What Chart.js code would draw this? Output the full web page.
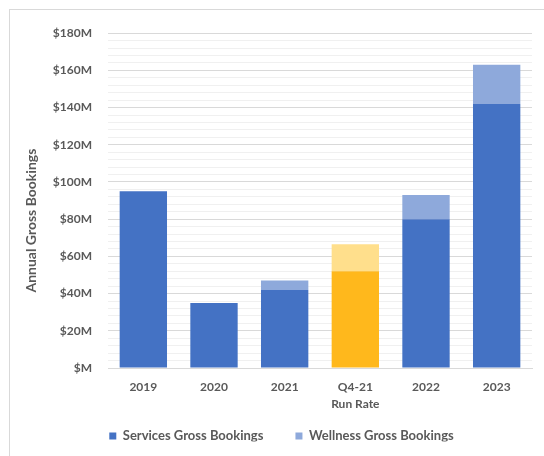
<!DOCTYPE html>
<html>
<head>
<meta charset="utf-8">
<script src="https://cdn.jsdelivr.net/npm/chart.js@4.4.1/dist/chart.umd.min.js"></script>
<style>
  html, body { margin: 0; padding: 0; background: #fff; }
  body { width: 544px; height: 456px; position: relative; overflow: hidden; }
  .frame { position: absolute; left: 9px; top: 9px; width: 540px; height: 460px; border: 1px solid #d9d9d9; }
  .wrap { position: absolute; left: 10px; top: 10px; width: 534px; height: 446px; }
</style>
</head>
<body>
<div class="frame"></div>
<div class="wrap"><canvas id="chart"></canvas></div>
<script>
const categories = ['2019', '2020', '2021', ['Q4-21', 'Run Rate'], '2022', '2023'];
const services = [95, 35, 42, 52, 80, 142];
const wellness = [0, 0, 5, 14.5, 13, 21];
const runRateIndex = 3;

const textColor = '#595959';
const font = { family: 'Lato', size: 12, weight: 'bold' };

const ctx = document.querySelector('#chart').getContext('2d');

// the legend's wide item padding also pushes it down, so lift it back up,
// and the axis title sits a bit below the middle of the axis in the original
const tweakLayout = {
    id: 'tweakLayout',
    afterLayout(chart) {
        const lg = chart.legend;
        lg.top -= 14.5;
        lg.bottom -= 14.5;
        lg.left += 6;
        lg.right += 6;

        const y = chart.scales.y;
        if (!y._shifted) {
            const drawTitle = y.drawTitle;
            y.drawTitle = function () {
                this.ctx.save();
                this.ctx.translate(0, 20);
                drawTitle.call(this);
                this.ctx.restore();
            };
            y._shifted = true;
        }
    }
};

// stacked bars, the run-rate column drawn in gold
new Chart(ctx, {
    type: 'bar',
    data: {
        labels: categories,
        datasets: [
            {
                label: 'Services Gross Bookings',
                data: services,
                backgroundColor: (c) => c.dataIndex === runRateIndex ? '#FFB81C' : '#4472C4',
                barPercentage: 0.67,
                categoryPercentage: 1
            },
            {
                label: 'Wellness Gross Bookings',
                data: wellness,
                backgroundColor: (c) => c.dataIndex === runRateIndex ? '#FFDF8C' : '#8EA9DB',
                barPercentage: 0.67,
                categoryPercentage: 1
            }
        ]
    },
    plugins: [tweakLayout],
    options: {
        responsive: true,
        maintainAspectRatio: false,
        animation: false,
        layout: { autoPadding: false, padding: { left: 9, right: 12, top: 16, bottom: 0 } },
        plugins: {
            tooltip: { enabled: false },
            legend: {
                position: 'bottom',
                maxHeight: 44,
                labels: {
                    color: textColor,
                    font: { family: 'Lato', size: 13, weight: 'bold' },
                    boxWidth: 7,
                    boxHeight: 7,
                    padding: 32
                }
            }
        },
        scales: {
            x: {
                stacked: true,
                grid: { display: false },
                border: { display: true, color: '#d9d9d9' },
                ticks: { color: textColor, font: { family: 'Lato', size: 12, weight: 'bold', lineHeight: 1.45 }, padding: 2 },
                afterFit: (scale) => { scale.height = 44; }
            },
            y: {
                stacked: true,
                min: 0,
                max: 180,
                border: { display: false },
                grid: {
                    drawTicks: false,
                    color: (c) => c.tick && c.tick.value % 20 === 0 ? '#d9d9d9' : '#f0f0f0'
                },
                ticks: {
                    stepSize: 4,
                    autoSkip: false,
                    color: textColor,
                    font: font,
                    padding: 16,
                    callback: (v) => v % 20 === 0 ? '$' + (v === 0 ? '' : v) + 'M' : ''
                },
                title: {
                    display: true,
                    text: 'Annual Gross Bookings',
                    color: textColor,
                    font: { family: 'Lato', size: 14, weight: 'bold' },
                    padding: 3.6
                },
                afterFit: (scale) => { scale.width = 89; }
            }
        }
    }
});
</script>
</body>
</html>
